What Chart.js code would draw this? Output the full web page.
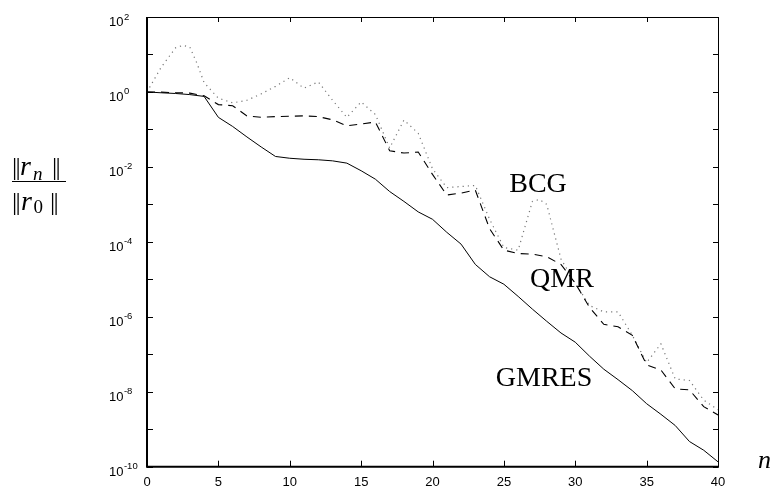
<!DOCTYPE html>
<html>
<head>
<meta charset="utf-8">
<script src="https://cdn.jsdelivr.net/npm/chart.js@4.4.0/dist/chart.umd.min.js"></script>
<style>
  html, body { margin: 0; padding: 0; background: #fff; }
</style>
</head>
<body>
<canvas id="residualChart" width="772" height="491"></canvas>
<script>
// relative residual ||r_n|| / ||r_0|| per iteration
const iterations = [
  0, 1, 2, 3, 4, 5, 6, 7, 8, 9, 10, 11, 12, 13, 14, 15, 16, 17, 18, 19, 20,
  21, 22, 23, 24, 25, 26, 27, 28, 29, 30, 31, 32, 33, 34, 35, 36, 37, 38, 39, 40
];
const gmresResidual = [
  1, 0.95, 0.91, 0.85, 0.76, 0.21, 0.12, 6.3e-2, 3.4e-2, 1.9e-2, 1.7e-2,
  1.6e-2, 1.55e-2, 1.45e-2, 1.26e-2, 7.9e-3, 4.7e-3, 2.2e-3, 1.2e-3, 6.3e-4, 4.0e-4,
  1.8e-4, 8.7e-5, 2.5e-5, 1.17e-5, 7.4e-6, 3.5e-6, 1.6e-6, 7.6e-7, 3.7e-7, 2.1e-7,
  8.9e-8, 4.0e-8, 2.1e-8, 1.07e-8, 4.8e-9, 2.5e-9, 1.26e-9, 4.7e-10, 2.75e-10, 1.35e-10
];
const qmrResidual = [
  1, 0.99, 0.955, 0.93, 0.79, 0.46, 0.43, 0.23, 0.21, 0.22, 0.224,
  0.23, 0.22, 0.18, 0.125, 0.14, 0.158, 2.7e-2, 2.34e-2, 2.5e-2, 6.3e-3,
  1.78e-3, 2.0e-3, 2.4e-3, 2.24e-4, 6.0e-5, 4.9e-5, 4.7e-5, 4.0e-5, 2.5e-5, 7.9e-6,
  1.78e-6, 6.3e-7, 5.4e-7, 3.2e-7, 5.2e-8, 3.8e-8, 1.2e-8, 1.12e-8, 4.0e-9, 2.4e-9
];
const bcgIterations = [
  0, 1, 2, 2.5, 3, 3.5, 4, 5, 6, 7, 8, 9, 10, 11, 12, 13, 14, 15, 16, 17, 18, 19, 20,
  21, 22, 23, 24, 25, 26, 27, 27.5, 28, 29, 30, 31, 32, 33, 34, 35, 36, 37, 38, 39, 40
];
const bcgResidual = [
  1, 4.6, 15, 17.4, 15.8, 5.8, 1.78, 0.68, 0.51, 0.6, 0.89, 1.41, 2.4,
  1.26, 1.86, 0.6, 0.21, 0.54, 0.25, 3.2e-2, 0.178, 7.9e-2, 8.9e-3,
  2.8e-3, 3.0e-3, 3.2e-3, 4.0e-4, 7.1e-5, 6.0e-5, 1.2e-3, 1.35e-3, 1.0e-3, 3.5e-5, 7.9e-6,
  2.0e-6, 1.35e-6, 1.35e-6, 3.2e-7, 6.0e-8, 1.9e-7, 2.2e-8, 2.0e-8, 6.0e-9, 3.3e-9
];
const xTicks = [0, 5, 10, 15, 20, 25, 30, 35, 40];
const yDecades = [-10, -9, -8, -7, -6, -5, -4, -3, -2, -1, 0, 1, 2];

const points = (xs, ys) => xs.map((n, i) => ({ x: n, y: ys[i] }));

// frame, inward ticks, 10^k labels and the hand-set annotations
const framePlugin = {
  id: "frame",
  afterDraw(chart) {
    const { ctx, chartArea: a, scales } = chart;
    const x = scales.x, y = scales.y;
    ctx.save();
    ctx.strokeStyle = "#000";
    ctx.lineWidth = 1;
    ctx.beginPath();
    x.ticks.forEach((t) => {
      const px = Math.round(x.getPixelForValue(t.value)) + 0.5;
      ctx.moveTo(px, a.bottom); ctx.lineTo(px, a.bottom - 6);
      ctx.moveTo(px, a.top); ctx.lineTo(px, a.top + 5);
    });
    y.ticks.forEach((t) => {
      const py = Math.round(y.getPixelForValue(t.value)) + 0.5;
      ctx.moveTo(a.left, py); ctx.lineTo(a.left + 6, py);
      ctx.moveTo(a.right, py); ctx.lineTo(a.right - 5, py);
    });
    ctx.stroke();

    // axes box: heavier left/bottom
    ctx.beginPath();
    ctx.moveTo(a.left, a.top + 0.5); ctx.lineTo(a.right + 0.5, a.top + 0.5);
    ctx.lineTo(a.right + 0.5, a.bottom);
    ctx.stroke();
    ctx.lineWidth = 2;
    ctx.beginPath();
    ctx.moveTo(a.left, a.top); ctx.lineTo(a.left, a.bottom);
    ctx.lineTo(a.right + 1, a.bottom);
    ctx.stroke();

    // y tick labels 10^k on even decades
    ctx.fillStyle = "#000";
    ctx.textAlign = "left";
    ctx.textBaseline = "alphabetic";
    y.ticks.forEach((t) => {
      const k = Math.round(Math.log10(t.value));
      if (k % 2 !== 0) return;
      const py = y.getPixelForValue(t.value);
      ctx.font = "13px 'Liberation Sans', Arial, sans-serif";
      ctx.fillText("10", 109, py + 9);
      const w = ctx.measureText("10").width;
      ctx.font = "9.5px 'Liberation Sans', Arial, sans-serif";
      ctx.fillText(String(k), 109 + w + 0.5, py + 2.5);
    });

    // series names
    ctx.font = "28px 'Liberation Serif', 'Times New Roman', serif";
    ctx.textAlign = "center";
    ctx.fillText("BCG", 538, 192);
    ctx.fillText("QMR", 562, 287);
    ctx.fillText("GMRES", 544, 386);

    // x axis name
    ctx.textAlign = "left";
    ctx.font = "italic 26px 'Liberation Serif', serif";
    ctx.fillText("n", 758, 468);

    // y axis name: ||r_n|| over ||r_0||
    const bars = (x0, base) => {
      ctx.font = "26px 'Liberation Serif', serif";
      ctx.fillText("|", x0, base);
      ctx.fillText("|", x0 + 3.5, base);
    };
    bars(12, 175);
    ctx.font = "italic 28px 'Liberation Serif', serif";
    ctx.fillText("r", 20, 175);
    ctx.font = "italic 19px 'Liberation Serif', serif";
    ctx.fillText("n", 33, 180);
    bars(52, 175);

    ctx.lineWidth = 1;
    ctx.beginPath();
    ctx.moveTo(12, 181.5); ctx.lineTo(66, 181.5);
    ctx.stroke();

    bars(12, 210);
    ctx.font = "italic 28px 'Liberation Serif', serif";
    ctx.fillText("r", 21, 210);
    ctx.font = "19px 'Liberation Serif', serif";
    ctx.fillText("0", 33.5, 213);
    bars(50, 210);
    ctx.restore();
  }
};

const ctx = document.getElementById("residualChart").getContext("2d");
const residualChart = new Chart(ctx, {
  type: "line",
  data: {
    datasets: [
      {
        label: "GMRES",
        data: points(iterations, gmresResidual),
        borderColor: "#000",
        borderWidth: 1,
        pointRadius: 0,
        tension: 0,
      },
      {
        label: "QMR",
        data: points(iterations, qmrResidual),
        borderColor: "#000",
        borderWidth: 1.1,
        borderDash: [8, 6],
        pointRadius: 0,
        tension: 0,
      },
      {
        label: "BCG",
        data: points(bcgIterations, bcgResidual),
        borderColor: "#777",
        borderWidth: 1.2,
        borderDash: [1.2, 4],
        pointRadius: 0,
        tension: 0,
      },
    ],
  },
  options: {
    responsive: false,
    animation: false,
    layout: { padding: { left: 147, right: 54, top: 17, bottom: 0 } },
    plugins: {
      legend: { display: false },
      tooltip: { enabled: false },
    },
    scales: {
      x: {
        type: "linear",
        min: 0,
        max: 40,
        afterBuildTicks: (s) => { s.ticks = xTicks.map((v) => ({ value: v })); },
        afterFit: (s) => { s.height = 24.3; },
        grid: { display: false, drawTicks: false },
        border: { display: false },
        ticks: {
          color: "#000",
          padding: 8,
          maxRotation: 0,
          autoSkip: false,
          font: { family: "'Liberation Sans', Arial, sans-serif", size: 13 },
        },
      },
      y: {
        type: "logarithmic",
        min: 1e-10,
        max: 1e2,
        afterBuildTicks: (s) => { s.ticks = yDecades.map((k) => ({ value: Math.pow(10, k), major: true })); },
        afterFit: (s) => { s.width = 0; },
        grid: { display: false, drawTicks: false },
        border: { display: false },
        ticks: { display: false },
      },
    },
  },
  plugins: [framePlugin],
});
</script>
</body>
</html>
